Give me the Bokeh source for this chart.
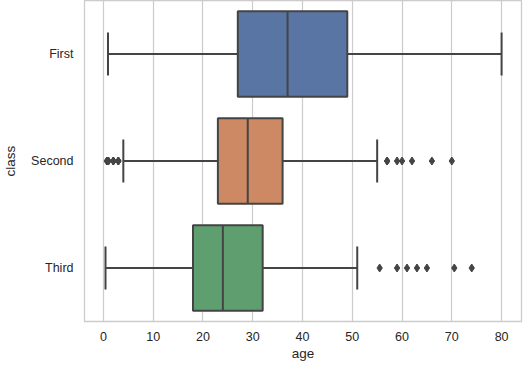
from bokeh.plotting import figure
from bokeh.models import Range1d, FixedTicker
from bokeh.embed import file_html
from bokeh.resources import INLINE

classes = ["First", "Second", "Third"]
q1 = [27.0, 23.0, 18.0]
median = [37.0, 29.0, 24.0]
q3 = [49.0, 36.0, 32.0]
whisk_lo = [0.92, 4.0, 0.42]
whisk_hi = [80.0, 55.0, 51.0]
colors = ["#5875a4", "#cc8963", "#5f9e6e"]
outliers = {
    "First": [],
    "Second": [0.67, 0.83, 0.83, 1.0, 1.0, 2.0, 2.0, 2.0, 3.0, 3.0, 3.0,
               57.0, 57.0, 59.0, 60.0, 62.0, 66.0, 70.0],
    "Third": [55.5, 59.0, 61.0, 63.0, 65.0, 70.5, 74.0],
}
x_ticks = [0, 10, 20, 30, 40, 50, 60, 70, 80]

LINE = "#444444"
GRID = "#cccccc"
TEXT = "#262626"

p = figure(frame_width=437, frame_height=321, output_backend="svg", toolbar_location=None,
           x_range=Range1d(-3.8, 84.0), y_range=Range1d(2.5, -0.5),
           min_border_left=77, min_border_right=6, min_border_top=0, min_border_bottom=0)
p.background_fill_color = "white"
p.outline_line_color = GRID
p.outline_line_width = 1.3

ypos = list(range(len(classes)))

# whiskers
p.segment(x0=whisk_lo, y0=ypos, x1=q1, y1=ypos, line_color=LINE, line_width=2)
p.segment(x0=q3, y0=ypos, x1=whisk_hi, y1=ypos, line_color=LINE, line_width=2)
# caps
p.segment(x0=whisk_lo, y0=[y - 0.2 for y in ypos], x1=whisk_lo, y1=[y + 0.2 for y in ypos],
          line_color=LINE, line_width=2)
p.segment(x0=whisk_hi, y0=[y - 0.2 for y in ypos], x1=whisk_hi, y1=[y + 0.2 for y in ypos],
          line_color=LINE, line_width=2)
# boxes
p.hbar(y=ypos, left=q1, right=q3, height=0.8, fill_color=colors,
       line_color=LINE, line_width=2)
# medians
p.segment(x0=median, y0=[y - 0.4 for y in ypos], x1=median, y1=[y + 0.4 for y in ypos],
          line_color=LINE, line_width=2)
# outliers
ox, oy = [], []
for i, c in enumerate(classes):
    for v in outliers[c]:
        ox.append(v)
        oy.append(i)
p.scatter(x=ox, y=oy, marker="diamond", size=8, fill_color=LINE, line_color=LINE)

# axes
p.xaxis.ticker = FixedTicker(ticks=x_ticks)
p.yaxis.ticker = FixedTicker(ticks=ypos)
p.yaxis.major_label_overrides = {i: c for i, c in enumerate(classes)}
p.xaxis.axis_label = "age"
p.yaxis.axis_label = "class"
for ax in (p.xaxis, p.yaxis):
    ax.axis_line_color = None
    ax.major_tick_line_color = None
    ax.minor_tick_line_color = None
    ax.major_tick_out = 0
    ax.major_tick_in = 0
    ax.major_label_text_font = "Liberation Sans"
    ax.major_label_text_font_size = "12.5px"
    ax.major_label_text_color = TEXT
    ax.axis_label_text_font = "Liberation Sans"
    ax.axis_label_text_font_size = "13.5px"
    ax.axis_label_text_font_style = "normal"
    ax.axis_label_text_color = TEXT
p.xaxis.major_label_standoff = 10
p.yaxis.major_label_standoff = 11
p.xaxis.axis_label_standoff = 2
p.yaxis.axis_label_standoff = 10

p.xgrid.grid_line_color = GRID
p.xgrid.grid_line_width = 1.2
p.ygrid.grid_line_color = None

open("out.html", "w").write(file_html(p, INLINE))
